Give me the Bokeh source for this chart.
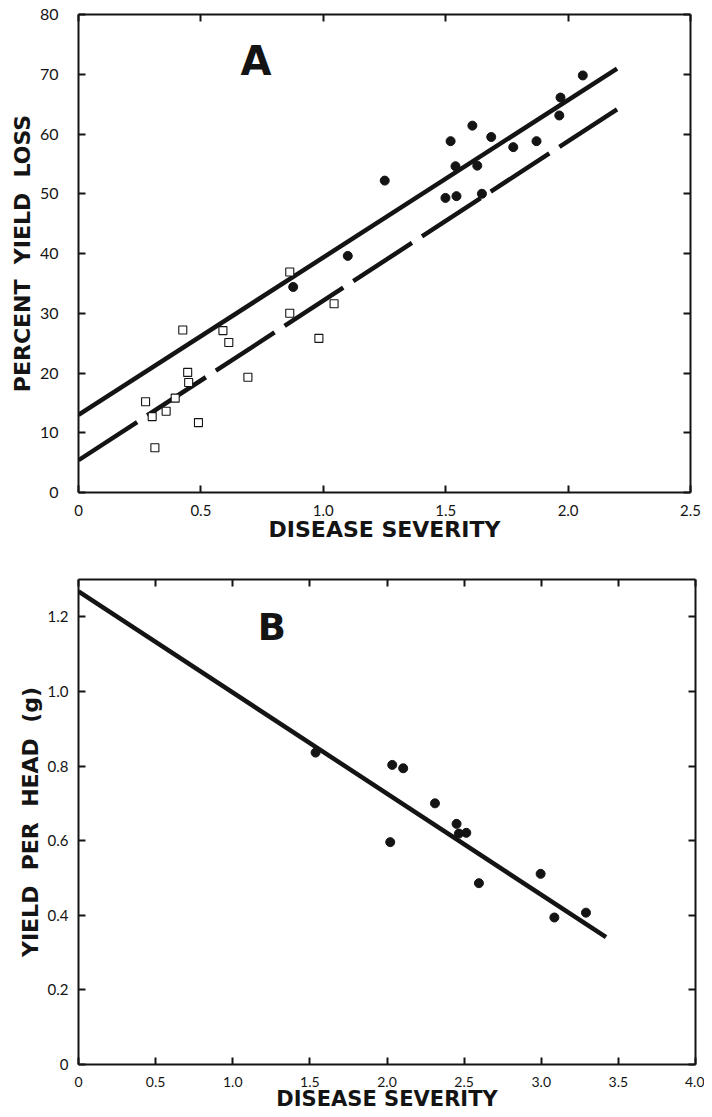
from bokeh.plotting import figure
from bokeh.models import FixedTicker, LinearAxis, Range1d, CustomJSTickFormatter, Label
from bokeh.layouts import column
from bokeh.embed import file_html
from bokeh.resources import INLINE

# ---------------- Panel A data ----------------
a_sq_x = [0.274, 0.301, 0.312, 0.358, 0.395, 0.426, 0.446, 0.450, 0.490,
          0.590, 0.614, 0.692, 0.863, 0.863, 0.982, 1.044]
a_sq_y = [15.2, 12.7, 7.5, 13.6, 15.8, 27.2, 20.1, 18.4, 11.7,
          27.1, 25.1, 19.3, 36.9, 30.0, 25.8, 31.6]
a_dot_x = [0.877, 1.100, 1.251, 1.520, 1.499, 1.544, 1.540, 1.609, 1.629,
           1.648, 1.686, 1.776, 1.871, 1.964, 1.969, 2.060]
a_dot_y = [34.4, 39.6, 52.2, 58.8, 49.3, 49.6, 54.6, 61.4, 54.7,
           50.0, 59.5, 57.8, 58.8, 63.1, 66.1, 69.8]
a_solid_intercept, a_solid_slope = 13.0, 26.34
a_dash_intercept, a_dash_slope = 5.4, 26.7
a_fit_x = [0.0, 2.2]
a_xticks = [0, 0.5, 1.0, 1.5, 2.0, 2.5]
a_yticks = [0, 10, 20, 30, 40, 50, 60, 70, 80]

# ---------------- Panel B data ----------------
b_x = [1.537, 2.034, 2.105, 2.021, 2.311, 2.451, 2.466, 2.514, 2.596,
       2.996, 3.085, 3.290]
b_y = [0.836, 0.803, 0.794, 0.596, 0.700, 0.645, 0.619, 0.621, 0.486,
       0.511, 0.394, 0.407]
b_intercept, b_slope = 1.268, -0.271
b_fit_x = [0.0, 3.42]
b_xticks = [0, 0.5, 1.0, 1.5, 2.0, 2.5, 3.0, 3.5, 4.0]
b_yticks = [0, 0.2, 0.4, 0.6, 0.8, 1.0, 1.2]

INK = "#141414"
TICK_FONT = "Lato"
LABEL_FONT = "DejaVu Sans"
NB = "\u00a0"

dec_fmt = CustomJSTickFormatter(code="return tick == 0 ? '0' : tick.toFixed(1);")


def style_axis(ax, ticks, label_standoff=8, show_labels=True, tick_size="15px"):
    ax.ticker = FixedTicker(ticks=ticks)
    ax.axis_line_width = 2
    ax.axis_line_color = INK
    ax.major_tick_in = 7
    ax.major_tick_out = 0
    ax.major_tick_line_width = 2
    ax.major_tick_line_color = INK
    ax.minor_tick_line_color = None
    ax.major_label_text_font = TICK_FONT
    ax.major_label_text_font_size = tick_size
    ax.major_label_standoff = label_standoff
    if show_labels:
        ax.major_label_text_color = INK
    else:
        ax.major_label_text_color = None
        ax.major_label_standoff = 0
    ax.axis_label_text_font = LABEL_FONT
    ax.axis_label_text_font_style = "bold"
    ax.axis_label_text_font_size = "22px"
    ax.axis_label_text_color = INK


def base_fig(xr, yr, fw, fh, left, right, top, bottom):
    p = figure(frame_width=fw, frame_height=fh,
               x_range=Range1d(*xr), y_range=Range1d(*yr),
               output_backend="svg", toolbar_location=None,
               min_border_left=left, min_border_right=right,
               min_border_top=top, min_border_bottom=bottom)
    p.outline_line_color = None
    p.xgrid.grid_line_color = None
    p.ygrid.grid_line_color = None
    p.background_fill_color = "white"
    p.border_fill_color = "white"
    return p


# ================= Panel A =================
pA = base_fig((0, 2.5), (0, 80), 612, 478, 78, 14, 14, 56)
style_axis(pA.xaxis[0], a_xticks, label_standoff=12)
pA.xaxis[0].formatter = dec_fmt
pA.xaxis[0].axis_label = "DISEASE SEVERITY"
pA.xaxis[0].axis_label_standoff = -2
style_axis(pA.yaxis[0], a_yticks, label_standoff=20, tick_size="16px")
pA.yaxis[0].axis_label = "PERCENT " + NB + "YIELD " + NB + "LOSS"
pA.yaxis[0].axis_label_standoff = 2

topA = LinearAxis()
style_axis(topA, a_xticks, show_labels=False)
pA.add_layout(topA, "above")
rightA = LinearAxis()
style_axis(rightA, a_yticks, show_labels=False)
pA.add_layout(rightA, "right")

pA.line(a_fit_x, [a_solid_intercept + a_solid_slope * x for x in a_fit_x],
        line_color=INK, line_width=4.5)
pA.line(a_fit_x, [a_dash_intercept + a_dash_slope * x for x in a_fit_x],
        line_color=INK, line_width=4.5, line_dash="70 12")
pA.scatter(a_sq_x, a_sq_y, marker="square", size=8, fill_color="white",
           line_color=INK, line_width=1.1)
pA.scatter(a_dot_x, a_dot_y, marker="circle", size=9, fill_color=INK,
           line_color=INK)
pA.add_layout(Label(x=0.725, y=72.2, text="A", text_align="center",
                    text_baseline="alphabetic", text_font=LABEL_FONT,
                    text_font_style="bold", text_font_size="40px",
                    text_color=INK))

# ================= Panel B =================
pB = base_fig((0, 4.0), (0, 1.3), 617, 485, 73, 14, 31, 0)
style_axis(pB.xaxis[0], b_xticks, label_standoff=12, tick_size="14px")
pB.xaxis[0].formatter = dec_fmt
pB.xaxis[0].axis_label = "DISEASE SEVERITY"
pB.xaxis[0].axis_label_standoff = -3
pB.xaxis[0].axis_label_text_font_size = "21px"
style_axis(pB.yaxis[0], b_yticks, label_standoff=10)
pB.yaxis[0].formatter = dec_fmt
pB.yaxis[0].axis_label = "YIELD " + NB + "PER " + NB + "HEAD " + NB + "(g)"
pB.yaxis[0].axis_label_standoff = 2

topB = LinearAxis()
style_axis(topB, b_xticks, show_labels=False)
pB.add_layout(topB, "above")
rightB = LinearAxis()
style_axis(rightB, b_yticks, show_labels=False)
pB.add_layout(rightB, "right")

pB.line(b_fit_x, [b_intercept + b_slope * x for x in b_fit_x],
        line_color=INK, line_width=4.5)
pB.scatter(b_x, b_y, marker="circle", size=9, fill_color=INK, line_color=INK)
pB.add_layout(Label(x=1.253, y=1.171, text="B", text_align="center",
                    text_baseline="alphabetic", text_font=LABEL_FONT,
                    text_font_style="bold", text_font_size="37px",
                    text_color=INK))

layout = column(pA, pB)
open("out.html", "w").write(file_html(layout, INLINE))
